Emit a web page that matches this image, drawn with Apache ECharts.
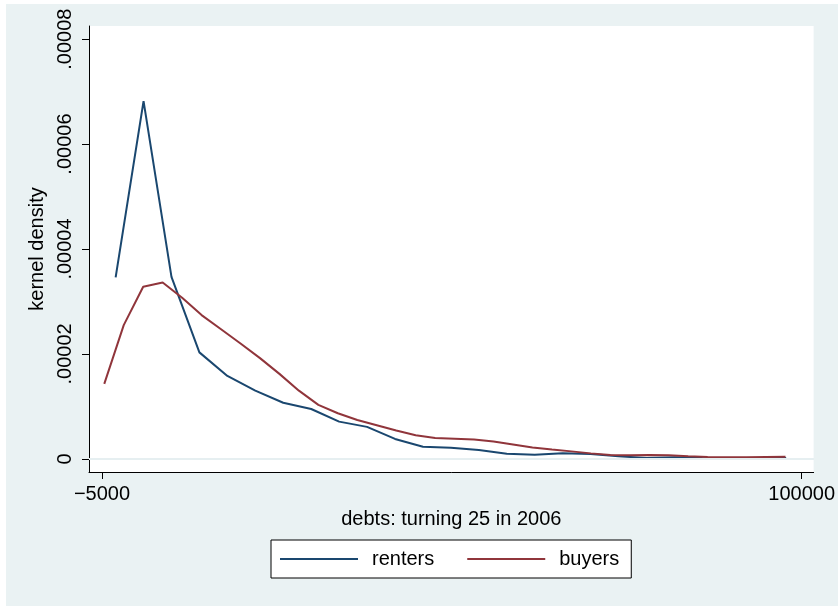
<!DOCTYPE html>
<html lang="en">

<head>
    <meta charset="UTF-8">
    <title>kernel density - debts</title>
    <script src="https://cdn.jsdelivr.net/npm/echarts@6.0.0/dist/echarts.min.js"></script>
    <style>
        body { margin: 0; background: #ffffff; }
        #main { position: absolute; left: 6px; top: 4px; width: 832px; height: 602px; }
    </style>
</head>

<body>

    <div id="main"></div>

    <script type="text/javascript">
        // renters: kernel density evaluation points
        const rentersX = [-2950, 1240, 5430, 9620, 13820, 18010, 22200, 26400, 30590, 34780,
            38980, 43170, 47360, 51560, 55750, 59940, 64140, 68330, 72520, 76720,
            80910, 85100, 89300, 93490, 97680];
        const rentersY = [3.46e-5, 6.82e-5, 3.47e-5, 2.03e-5, 1.58e-5, 1.30e-5, 1.07e-5, 9.5e-6, 7.1e-6, 6.1e-6,
            3.8e-6, 2.3e-6, 2.1e-6, 1.7e-6, 1.0e-6, 8e-7, 1.05e-6, 9.5e-7, 4.8e-7, 1.9e-7,
            2.9e-7, 1.9e-7, 1.0e-7, 1.0e-7, 1.9e-7];

        // buyers
        const buyersX = [-4655, -1734, 1187, 4108, 7029, 9950, 12871, 15792, 18713, 21634,
            24555, 27476, 30397, 33318, 36239, 39160, 42081, 45002, 47923, 50844,
            53765, 56686, 59607, 62528, 65449, 68370, 71291, 74212, 77133, 80054,
            82975, 85896, 88817, 91738, 94659, 97580];
        const buyersY = [1.43e-5, 2.55e-5, 3.28e-5, 3.36e-5, 3.07e-5, 2.74e-5, 2.47e-5, 2.20e-5, 1.92e-5, 1.62e-5,
            1.30e-5, 1.03e-5, 8.7e-6, 7.4e-6, 6.4e-6, 5.4e-6, 4.5e-6, 4.0e-6, 3.85e-6, 3.7e-6,
            3.3e-6, 2.76e-6, 2.19e-6, 1.77e-6, 1.43e-6, 1.05e-6, 7.6e-7, 7.0e-7, 7.2e-7, 6.7e-7,
            5.1e-7, 3.8e-7, 3.2e-7, 3.2e-7, 3.8e-7, 4.2e-7];

        // tick labels
        const xTicks = [-5000, 100000];
        const yTicks = [0, 0.00002, 0.00004, 0.00006, 0.00008];
        // horizontal grid lines (none at the top tick)
        const yGrid = [0, 0.00002, 0.00004, 0.00006];

        const font = 'Liberation Sans, Arial, sans-serif';

        function pairs(xs, ys) {
            return xs.map((x, i) => [x, ys[i]]);
        }

        var chart = echarts.init(document.getElementById('main'));

        var option = {
            backgroundColor: '#eaf2f3',
            animation: false,
            textStyle: { fontFamily: font },
            grid: {
                left: 83,
                right: 23,
                top: 22,
                bottom: 134,
                show: true,
                backgroundColor: '#ffffff',
                borderWidth: 0
            },
            legend: {
                left: 265,
                top: 536,
                orient: 'horizontal',
                backgroundColor: '#ffffff',
                borderColor: '#000000',
                borderWidth: 1,
                borderRadius: 0,
                padding: [9, 12, 9, 9],
                itemGap: 33,
                itemWidth: 78,
                itemHeight: 2,
                icon: 'rect',
                textStyle: { fontSize: 20, color: '#000', fontFamily: font, padding: [0, 0, 0, 9] },
                data: ['renters', 'buyers']
            },
            xAxis: {
                type: 'value',
                min: -6947,
                max: 101800,
                name: 'debts: turning 25 in 2006',
                nameLocation: 'middle',
                nameGap: 37,
                nameTextStyle: { fontSize: 20, color: '#000', fontFamily: font },
                axisLine: { show: true, onZero: false, lineStyle: { color: '#000', width: 1 } },
                axisTick: { show: true, length: 7, customValues: xTicks, lineStyle: { color: '#000' } },
                axisLabel: {
                    customValues: xTicks,
                    margin: 12,
                    fontSize: 20,
                    color: '#000',
                    fontFamily: font,
                    formatter: v => v < 0 ? '\u2212' + Math.abs(v) : String(v)
                },
                splitLine: { show: false }
            },
            yAxis: {
                type: 'value',
                min: -0.0000025,
                max: 0.0000825,
                name: 'kernel density',
                nameLocation: 'middle',
                nameGap: 40,
                nameRotate: 90,
                nameTextStyle: { fontSize: 20, color: '#000', fontFamily: font },
                axisLine: { show: true, onZero: false, lineStyle: { color: '#000', width: 1 } },
                axisTick: { show: true, length: 7, customValues: yTicks, lineStyle: { color: '#000' } },
                axisLabel: {
                    customValues: yTicks,
                    rotate: 90,
                    margin: 14,
                    fontSize: 20,
                    color: '#000',
                    fontFamily: font,
                    formatter: v => v === 0 ? '0' : v.toFixed(5).replace(/^0/, '')
                },
                splitLine: { show: false }
            },
            series: [
                {
                    // grid lines only, kept under the curves
                    name: 'grid',
                    type: 'line',
                    data: [],
                    z: 1,
                    markLine: {
                        silent: true,
                        symbol: 'none',
                        label: { show: false },
                        lineStyle: { color: '#e6eff1', width: 1.5, type: 'solid' },
                        data: yGrid.map(v => ({ yAxis: v }))
                    }
                },
                {
                    name: 'renters',
                    type: 'line',
                    data: pairs(rentersX, rentersY),
                    showSymbol: false,
                    symbol: 'none',
                    lineStyle: { color: '#1a476f', width: 2 },
                    itemStyle: { color: '#1a476f' },
                    z: 3
                },
                {
                    name: 'buyers',
                    type: 'line',
                    data: pairs(buyersX, buyersY),
                    showSymbol: false,
                    symbol: 'none',
                    lineStyle: { color: '#90353b', width: 2 },
                    itemStyle: { color: '#90353b' },
                    z: 4
                }
            ]
        };

        chart.setOption(option);
    </script>
</body>

</html>
